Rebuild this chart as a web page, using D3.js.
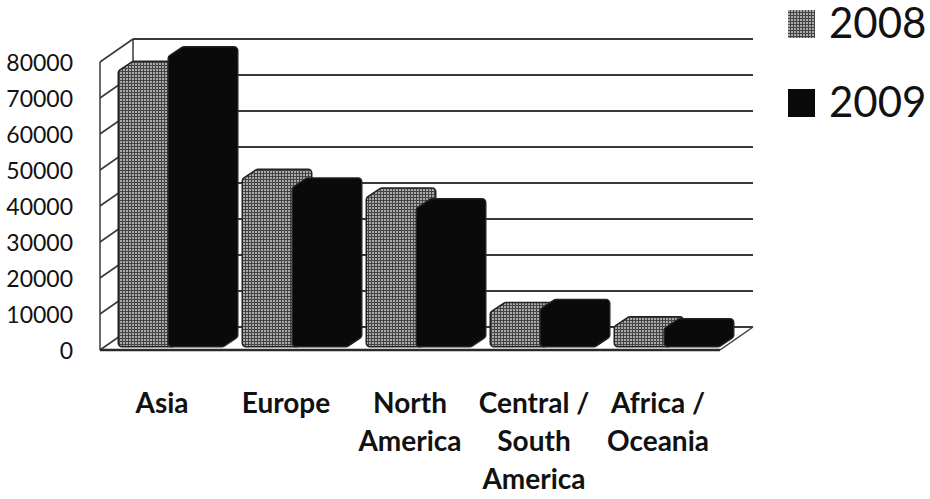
<!DOCTYPE html>
<html lang="en">
<head>
    <meta charset="UTF-8">
    <title>3D Column Chart</title>
    <script src="https://d3js.org/d3.v7.min.js"></script>
    <style>
        body {
            margin: 0;
            padding: 0;
            background-color: #ffffff;
        }
        svg {
            display: block;
            font-family: Lato, "Open Sans", sans-serif;
        }
    </style>
</head>
<body>
    <svg width="930" height="499"></svg>

    <script>
        // data
        const categories = ["Asia", "Europe", "North America", "Central / South America", "Africa / Oceania"];
        const labelLines = [["Asia"], ["Europe"], ["North", "America"], ["Central /", "South", "America"], ["Africa /", "Oceania"]];
        const seriesNames = ["2008", "2009"];
        const values2008 = [75000, 45000, 39800, 8000, 4000];
        const values2009 = [79000, 42600, 36800, 8800, 3500];
        const yTicks = [0, 10000, 20000, 30000, 40000, 50000, 60000, 70000, 80000];

        const svg = d3.select("svg");

        // front plane of the 3D box + depth offset
        const front = { left: 100, right: 720, bottom: 350, top: 62 };
        const depth = { dx: 33, dy: -23 };
        const barOff = { dx: 10, dy: -7 };   // where the bars stand inside the box
        const barDepth = { dx: 12, dy: -8 }; // depth of each bar

        const y = d3.scaleLinear().domain([0, 80000]).range([front.bottom, front.top]);
        const xFront = d3.scaleBand().domain(categories).range([front.left, front.right]);
        const xGroup = d3.scaleBand()
            .domain(categories)
            .range([front.left, front.right])
            .paddingInner(0.1935)
            .paddingOuter(0.0968);
        const xSub = d3.scaleBand().domain(seriesNames).range([0, xGroup.bandwidth()]);

        // halftone-ish pattern for 2008
        const defs = svg.append("defs");
        const pat = defs.append("pattern")
            .attr("id", "dots")
            .attr("width", 3)
            .attr("height", 3)
            .attr("patternUnits", "userSpaceOnUse");
        pat.append("rect").attr("width", 3).attr("height", 3).attr("fill", "#444");
        pat.append("rect").attr("width", 2).attr("height", 2).attr("fill", "#aaa");

        const gridColor = "#3a3a3a";

        // back wall gridlines
        svg.append("g").selectAll("line")
            .data(yTicks)
            .join("line")
            .attr("x1", front.left + depth.dx)
            .attr("x2", front.right + depth.dx)
            .attr("y1", d => y(d) + depth.dy)
            .attr("y2", d => y(d) + depth.dy)
            .attr("stroke", gridColor)
            .attr("stroke-width", 1.8);

        // side wall diagonals
        svg.append("g").selectAll("line")
            .data(yTicks)
            .join("line")
            .attr("x1", front.left)
            .attr("x2", front.left + depth.dx)
            .attr("y1", d => y(d))
            .attr("y2", d => y(d) + depth.dy)
            .attr("stroke", gridColor)
            .attr("stroke-width", 1.6);

        // wall edges
        const edges = [
            [[front.left, y(0)], [front.left, y(80000)]],
            [[front.left + depth.dx, y(0) + depth.dy], [front.left + depth.dx, y(80000) + depth.dy]],
            [[front.right, y(0)], [front.right + depth.dx, y(0) + depth.dy]]
        ];
        svg.append("g").selectAll("path")
            .data(edges)
            .join("path")
            .attr("d", d => d3.line()(d))
            .attr("stroke", gridColor)
            .attr("stroke-width", 1.5)
            .attr("fill", "none");

        // bars
        const rows = [];
        categories.forEach((c, i) => {
            rows.push({ cat: c, series: "2008", value: values2008[i] });
            rows.push({ cat: c, series: "2009", value: values2009[i] });
        });

        function barPath(d) {
            const w = xSub.bandwidth();
            const x0 = xGroup(d.cat) + xSub(d.series) + barOff.dx;
            const yb = y(0) + barOff.dy;
            const yt = y(d.value) + barOff.dy;
            return d3.line()([
                [x0, yb], [x0, yt],
                [x0 + barDepth.dx, yt + barDepth.dy],
                [x0 + w + barDepth.dx, yt + barDepth.dy],
                [x0 + w + barDepth.dx, yb + barDepth.dy],
                [x0 + w, yb]
            ]) + "Z";
        }

        const bars = svg.append("g").selectAll("g")
            .data(rows)
            .join("g");
        // dark rim
        bars.append("path")
            .attr("d", barPath)
            .attr("fill", "#222")
            .attr("stroke", "#222")
            .attr("stroke-width", 9)
            .attr("stroke-linejoin", "round");
        bars.append("path")
            .attr("d", barPath)
            .attr("fill", d => d.series === "2008" ? "url(#dots)" : "#0a0a0a")
            .attr("stroke", d => d.series === "2008" ? "url(#dots)" : "#0a0a0a")
            .attr("stroke-width", 6)
            .attr("stroke-linejoin", "round");

        // floor front edge
        svg.append("line")
            .attr("x1", front.left)
            .attr("x2", front.right)
            .attr("y1", y(0))
            .attr("y2", y(0))
            .attr("stroke", "#2a2a2a")
            .attr("stroke-width", 2.5);

        // y axis labels
        svg.append("g").selectAll("text")
            .data(yTicks)
            .join("text")
            .attr("x", 73)
            .attr("y", d => y(d) + 9)
            .attr("text-anchor", "end")
            .style("font-size", "23px")
            .style("fill", "#111")
            .text(d => d);

        // category labels
        const lab = svg.append("g").selectAll("text")
            .data(categories)
            .join("text")
            .attr("x", d => xFront(d) + xFront.bandwidth() / 2)
            .attr("y", 413)
            .attr("text-anchor", "middle")
            .style("font-size", "28px")
            .style("font-weight", "bold")
            .style("fill", "#111");
        lab.selectAll("tspan")
            .data((d, i) => labelLines[i])
            .join("tspan")
            .attr("x", function () { return d3.select(this.parentNode).attr("x"); })
            .attr("dy", (d, i) => i === 0 ? 0 : 38)
            .text(d => d);

        // legend
        const legend = svg.append("g").selectAll("g")
            .data(seriesNames)
            .join("g")
            .attr("transform", (d, i) => `translate(788,${10 + i * 79})`);
        legend.append("rect")
            .attr("width", 27)
            .attr("height", 28)
            .attr("fill", d => d === "2008" ? "url(#dots)" : "#0a0a0a");
        legend.append("text")
            .attr("x", 41)
            .attr("y", 28)
            .style("font-size", "42px")
            .style("fill", "#111")
            .text(d => d);
    </script>
</body>
</html>
